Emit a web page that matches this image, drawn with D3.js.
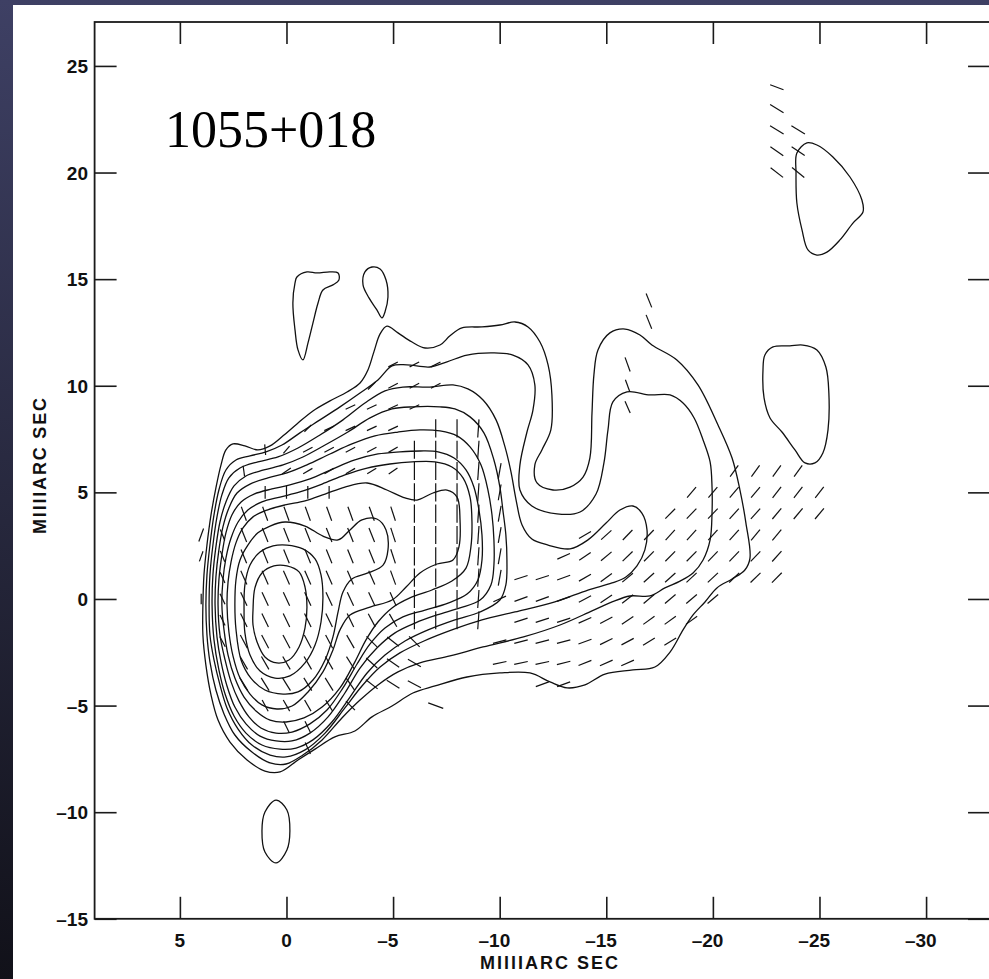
<!DOCTYPE html>
<html>
<head>
<meta charset="utf-8">
<script src="https://cdn.jsdelivr.net/npm/d3@7"></script>
<style>
  html, body { margin: 0; padding: 0; background: #1c1d2b; }
  svg { display: block; }
</style>
</head>
<body>
<svg id="chart" width="989" height="979"></svg>
<script>
// ---- labels and axes ----------------------------------------------------
const sourceName = "1055+018";
const axisTitle = "MIllIARC SEC";
const xTickValues = [5, 0, -5, -10, -15, -20, -25, -30];
const yTickValues = [25, 20, 15, 10, 5, 0, -5, -10, -15];
const xExtent = [9, -33];        // relative RA, mas (east to the left)
const yExtent = [-15, 27.06];    // relative Dec, mas

// ---- total-intensity contours, [RA offset, Dec offset] in mas -----------
// lowest level: envelope of the whole source
const contourL1 = [[3.92,-0.28],[3.87,1.13],[3.73,2.53],[3.54,3.94],[3.31,5.21],[3.07,6.29],[2.84,6.99],[2.51,7.27],[1.95,7.18],[1.34,6.99],[0.77,7.18],[0.16,7.65],[-0.49,8.21],[-1.24,8.82],[-2.04,9.29],[-2.84,9.71],[-3.45,10.13],[-3.82,10.74],[-4.10,11.59],[-4.39,12.43],[-4.71,12.80],[-5.23,12.48],[-5.89,12.05],[-6.50,11.77],[-7.20,11.91],[-7.67,12.34],[-8.23,12.71],[-9.17,12.76],[-10.01,12.85],[-10.72,12.99],[-11.33,12.76],[-11.89,12.05],[-12.27,10.98],[-12.45,9.57],[-12.40,7.93],[-11.98,6.99],[-11.65,6.29],[-11.75,5.44],[-12.50,5.11],[-13.30,5.25],[-13.91,5.72],[-14.23,6.61],[-14.33,8.72],[-14.42,10.51],[-14.61,11.68],[-15.17,12.48],[-15.88,12.66],[-16.58,12.38],[-17.14,11.91],[-18.31,11.21],[-19.30,10.04],[-20.24,8.16],[-20.90,6.61],[-21.27,5.11],[-21.55,3.56],[-21.74,1.92],[-21.50,1.36],[-20.90,0.94],[-20.19,0.52],[-19.63,-0.14],[-19.07,-0.75],[-18.60,-1.45],[-17.99,-2.49],[-17.28,-3.19],[-16.25,-3.33],[-14.94,-3.52],[-14.00,-4.03],[-13.16,-4.17],[-12.36,-3.89],[-11.42,-3.47],[-10.01,-3.47],[-8.47,-3.66],[-6.97,-4.08],[-5.93,-4.41],[-4.95,-5.02],[-4.01,-5.53],[-3.21,-6.19],[-2.27,-6.47],[-1.34,-7.04],[-0.54,-7.55],[0.30,-8.11],[1.01,-8.07],[1.85,-7.55],[2.65,-6.71],[3.21,-5.68],[3.54,-4.50],[3.78,-3.10],[3.92,-1.69]];

const contourL2 = [[3.78,-0.28],[3.73,1.13],[3.59,2.53],[3.40,3.94],[3.17,5.11],[2.84,6.05],[2.37,6.52],[1.71,6.71],[0.96,6.90],[0.21,7.22],[-0.63,7.79],[-1.57,8.40],[-2.51,9.01],[-3.45,9.66],[-4.29,10.27],[-4.95,10.93],[-5.65,10.98],[-6.73,10.88],[-7.53,11.12],[-8.47,11.44],[-9.68,11.54],[-10.62,11.44],[-11.33,10.98],[-11.65,10.04],[-11.56,8.86],[-11.28,7.83],[-10.95,6.29],[-10.95,5.11],[-11.51,4.36],[-12.69,3.99],[-13.77,4.08],[-14.52,4.92],[-14.89,6.38],[-15.08,7.93],[-15.31,9.24],[-15.97,9.71],[-17.05,9.57],[-17.99,9.57],[-18.60,9.19],[-19.12,8.49],[-19.54,7.46],[-19.87,6.43],[-19.96,5.25],[-19.96,4.03],[-19.87,2.77],[-19.54,1.83],[-19.07,1.22],[-18.46,0.84],[-17.75,0.52],[-17.05,0.14],[-16.11,0.14],[-15.27,-0.14],[-14.33,-0.56],[-12.83,-1.22],[-11.12,-1.78],[-9.22,-2.25],[-7.67,-2.67],[-6.26,-3.00],[-5.23,-3.42],[-4.29,-4.03],[-3.45,-4.74],[-2.60,-5.58],[-1.67,-6.61],[-0.77,-7.32],[0.02,-7.74],[0.77,-7.69],[1.62,-7.18],[2.42,-6.38],[2.93,-5.39],[3.31,-4.27],[3.59,-2.95],[3.73,-1.69]];

const contourL3 = [[3.63,-0.28],[3.59,1.13],[3.45,2.53],[3.26,3.85],[3.03,4.88],[2.70,5.68],[2.18,6.14],[1.34,6.43],[0.40,6.66],[-0.54,7.08],[-1.57,7.69],[-2.65,8.40],[-3.68,9.19],[-4.62,9.76],[-5.46,9.94],[-6.73,9.94],[-7.81,10.04],[-8.51,9.85],[-9.22,9.33],[-9.83,8.40],[-10.25,7.13],[-10.53,5.96],[-10.77,4.64],[-11.05,3.47],[-11.51,2.81],[-12.27,2.53],[-13.30,2.35],[-14.14,2.77],[-14.99,3.56],[-15.64,4.17],[-16.25,4.36],[-16.67,4.03],[-16.91,3.24],[-16.81,2.30],[-16.44,1.55],[-15.92,1.03],[-15.27,0.75],[-14.14,0.42],[-12.59,-0.14],[-10.72,-0.61],[-9.17,-0.98],[-7.76,-1.45],[-6.45,-1.97],[-5.32,-2.53],[-4.39,-3.19],[-3.54,-4.08],[-2.74,-5.11],[-1.81,-6.29],[-0.87,-7.08],[0.02,-7.41],[0.77,-7.32],[1.62,-6.85],[2.27,-6.10],[2.79,-5.11],[3.12,-4.03],[3.40,-2.86],[3.59,-1.69]];

const contourL4 = [[3.49,-0.28],[3.45,1.13],[3.31,2.44],[3.12,3.61],[2.84,4.55],[2.46,5.30],[1.90,5.77],[1.06,6.05],[0.16,6.29],[-0.77,6.66],[-1.81,7.22],[-2.88,7.83],[-3.92,8.49],[-4.95,8.91],[-5.93,9.01],[-7.20,9.01],[-7.90,8.91],[-8.61,8.54],[-9.26,7.79],[-9.73,6.52],[-10.01,5.25],[-10.15,4.17],[-10.29,3.00],[-10.34,1.83],[-10.29,0.66],[-10.01,-0.05],[-9.08,-0.61],[-7.90,-0.98],[-6.64,-1.45],[-5.56,-1.97],[-4.62,-2.63],[-3.78,-3.47],[-2.98,-4.60],[-2.13,-5.77],[-1.24,-6.61],[-0.45,-6.99],[0.30,-7.04],[1.15,-6.85],[1.90,-6.29],[2.46,-5.49],[2.88,-4.46],[3.17,-3.33],[3.40,-1.92]];

const contourL5 = [[3.35,-0.28],[3.31,1.03],[3.17,2.30],[2.98,3.38],[2.70,4.27],[2.32,4.97],[1.71,5.39],[0.87,5.68],[-0.02,5.91],[-0.96,6.29],[-2.04,6.80],[-3.07,7.27],[-4.15,7.65],[-5.23,7.83],[-6.26,7.93],[-7.20,7.88],[-8.00,7.65],[-8.61,7.13],[-9.12,6.29],[-9.45,5.11],[-9.64,3.94],[-9.73,2.77],[-9.73,1.59],[-9.59,0.66],[-9.08,-0.05],[-8.14,-0.42],[-7.06,-0.75],[-6.03,-1.13],[-5.09,-1.59],[-4.24,-2.30],[-3.45,-3.24],[-2.74,-4.41],[-1.95,-5.53],[-1.10,-6.29],[-0.26,-6.66],[0.49,-6.66],[1.24,-6.43],[1.90,-5.86],[2.42,-5.07],[2.79,-4.08],[3.07,-2.95],[3.26,-1.78]];

const contourL6 = [[3.21,-0.28],[3.17,0.89],[3.03,2.06],[2.84,3.10],[2.56,3.94],[2.13,4.55],[1.52,4.92],[0.68,5.16],[-0.16,5.35],[-1.10,5.63],[-2.18,6.10],[-3.21,6.52],[-4.29,6.80],[-5.32,6.90],[-6.26,6.94],[-7.11,6.90],[-7.86,6.61],[-8.42,6.05],[-8.79,5.25],[-9.03,4.17],[-9.17,3.00],[-9.17,1.83],[-8.98,0.89],[-8.47,0.23],[-7.58,-0.19],[-6.50,-0.52],[-5.46,-0.84],[-4.62,-1.36],[-3.92,-2.11],[-3.31,-3.05],[-2.65,-4.17],[-1.90,-5.21],[-1.10,-5.86],[-0.26,-6.24],[0.49,-6.29],[1.20,-6.05],[1.76,-5.53],[2.23,-4.78],[2.60,-3.89],[2.88,-2.86],[3.12,-1.69]];

const contourL7 = [[3.03,-0.28],[2.98,0.89],[2.84,1.92],[2.60,2.86],[2.27,3.61],[1.81,4.17],[1.15,4.55],[0.30,4.78],[-0.63,5.02],[-1.67,5.39],[-2.74,5.82],[-3.78,6.14],[-4.85,6.33],[-5.89,6.43],[-6.97,6.43],[-7.76,6.19],[-8.28,5.68],[-8.61,4.78],[-8.70,3.61],[-8.65,2.44],[-8.42,1.45],[-7.76,0.84],[-6.82,0.42],[-5.79,0.05],[-4.95,-0.42],[-4.29,-1.08],[-3.73,-1.92],[-3.21,-2.95],[-2.51,-4.17],[-1.67,-5.07],[-0.82,-5.58],[0.02,-5.77],[0.77,-5.68],[1.43,-5.25],[1.99,-4.60],[2.42,-3.71],[2.74,-2.63],[2.93,-1.45]];

// level that wraps the core and the knot near (-7, 4)
const contourL8 = [[2.79,-0.28],[2.74,0.80],[2.60,1.74],[2.37,2.63],[2.04,3.33],[1.57,3.85],[0.91,4.17],[0.07,4.41],[-0.87,4.60],[-1.81,4.92],[-2.74,5.25],[-3.78,5.44],[-4.71,5.11],[-5.56,4.74],[-6.12,4.64],[-6.87,4.97],[-7.53,5.11],[-8.00,4.78],[-8.14,3.71],[-8.09,2.44],[-7.81,1.83],[-7.06,1.64],[-6.26,1.22],[-5.61,0.56],[-4.95,-0.05],[-3.92,-0.38],[-2.98,-0.75],[-2.51,-1.45],[-2.18,-2.39],[-1.71,-3.42],[-1.01,-4.36],[-0.26,-5.02],[0.45,-5.16],[1.15,-4.97],[1.71,-4.46],[2.18,-3.71],[2.51,-2.67],[2.70,-1.55]];

const contourL9 = [[2.42,-0.28],[2.37,0.89],[2.18,1.83],[1.81,2.53],[1.34,3.10],[0.77,3.42],[0.07,3.61],[-0.87,3.42],[-1.71,2.95],[-2.42,2.77],[-2.98,3.24],[-3.54,3.71],[-4.24,3.75],[-4.67,3.24],[-4.76,2.30],[-4.53,1.59],[-3.82,1.22],[-3.07,0.94],[-2.65,0.33],[-2.42,-0.61],[-2.18,-1.78],[-1.81,-2.86],[-1.24,-3.80],[-0.54,-4.36],[0.16,-4.46],[1.01,-4.27],[1.67,-3.71],[2.13,-2.86],[2.37,-1.41]];

const contourL10 = [[1.99,-0.52],[1.95,0.66],[1.71,1.59],[1.24,2.20],[0.63,2.49],[-0.02,2.53],[-0.77,2.35],[-1.34,1.88],[-1.62,1.13],[-1.71,0.09],[-1.62,-1.08],[-1.34,-2.16],[-0.87,-3.00],[-0.16,-3.61],[0.54,-3.71],[1.24,-3.38],[1.71,-2.63],[1.95,-1.59]];

// peak level around the core
const contourL11 = [[1.57,-0.52],[1.48,0.52],[1.15,1.22],[0.59,1.55],[-0.02,1.55],[-0.59,1.27],[-0.87,0.56],[-0.96,-0.38],[-0.87,-1.36],[-0.59,-2.25],[-0.12,-2.86],[0.45,-3.00],[1.01,-2.72],[1.38,-2.02],[1.57,-1.22]];

// isolated lowest-level islands
const islandNorthWest = [[-0.49,15.10],[-0.96,15.34],[-1.43,15.29],[-2.04,15.34],[-2.42,15.29],[-2.46,14.96],[-2.18,14.73],[-1.71,14.49],[-1.48,13.88],[-1.24,12.94],[-1.01,12.01],[-0.77,11.21],[-0.54,11.68],[-0.40,12.62],[-0.30,13.88],[-0.40,14.82]];
const islandNorth = [[-3.59,14.73],[-3.68,15.34],[-4.01,15.57],[-4.39,15.48],[-4.67,14.96],[-4.76,14.16],[-4.62,13.46],[-4.48,13.18],[-4.24,13.56],[-3.87,14.12]];
const islandSouth = [[1.15,-10.88],[1.01,-9.99],[0.49,-9.43],[-0.02,-9.90],[-0.16,-10.88],[-0.02,-11.77],[0.49,-12.38],[1.01,-11.87]];
const islandFarNorth = [[-23.94,20.92],[-24.41,21.39],[-24.88,21.29],[-25.63,20.73],[-26.43,19.79],[-26.99,18.71],[-27.04,18.15],[-26.57,17.63],[-25.96,16.84],[-25.35,16.27],[-24.88,16.13],[-24.46,16.37],[-24.18,17.31],[-23.94,18.57],[-23.90,19.98]];
const islandWest = [[-22.35,10.74],[-22.44,11.44],[-22.82,11.82],[-23.61,11.87],[-24.22,11.91],[-24.88,11.68],[-25.30,10.88],[-25.44,9.66],[-25.40,7.93],[-25.16,6.85],[-24.79,6.38],[-24.32,6.38],[-23.85,6.99],[-23.24,7.83],[-22.68,8.49],[-22.40,9.43]];

// ---- polarization vectors: [RA, Dec, position angle (deg, N through E), length (mas)]
const vecJet = [
  [-21,6,-36,0.65],[-22,6,-36,0.65],[-23,6,-36,0.65],[-24,6,-36,0.65],
  [-19,5,-40,0.65],[-20,5,-40,0.65],[-21,5,-40,0.65],[-22,5,-40,0.65],[-23,5,-38,0.65],[-24,5,-38,0.65],[-25,5,-38,0.65],
  [-18,4,-45,0.65],[-19,4,-44,0.65],[-20,4,-44,0.65],[-21,4,-42,0.65],[-22,4,-42,0.65],[-23,4,-40,0.65],[-24,4,-40,0.65],[-25,4,-40,0.65],
  [-14,3,-60,0.65],[-15,3,-48,0.65],[-16,3,-44,0.65],[-17,3,-44,0.65],[-18,3,-42,0.65],[-19,3,-42,0.65],[-20,3,-42,0.65],[-21,3,-42,0.65],[-22,3,-40,0.65],[-23,3,-40,0.65],
  [-13,2,-66,0.65],[-14,2,-56,0.65],[-15,2,-50,0.65],[-16,2,-46,0.65],[-17,2,-45,0.65],[-18,2,-45,0.65],[-19,2,-45,0.65],[-20,2,-44,0.65],[-21,2,-44,0.65],[-22,2,-44,0.65],[-23,2,-42,0.65],
  [-11,1,-72,0.65],[-12,1,-72,0.65],[-13,1,-70,0.65],[-14,1,-60,0.65],[-15,1,-54,0.65],[-16,1,-50,0.65],[-17,1,-48,0.65],[-18,1,-48,0.65],[-19,1,-47,0.65],[-20,1,-47,0.65],[-21,1,-46,0.65],[-22,1,-46,0.65],[-23,1,-45,0.65],
  [-10,0,-66,0.65],[-11,0,-70,0.65],[-12,0,-70,0.65],[-13,0,-70,0.65],[-14,0,-62,0.65],[-15,0,-56,0.65],[-16,0,-52,0.65],[-17,0,-50,0.65],[-18,0,-50,0.65],[-19,0,-50,0.65],[-20,0,-50,0.65],
  [-11,-1,-72,0.65],[-12,-1,-72,0.65],[-13,-1,-72,0.65],[-14,-1,-66,0.65],[-15,-1,-62,0.65],[-16,-1,-56,0.65],[-17,-1,-54,0.65],[-18,-1,-54,0.65],[-19,-1,-54,0.65],
  [-10,-2,-75,0.65],[-11,-2,-75,0.65],[-12,-2,-75,0.65],[-13,-2,-75,0.65],[-14,-2,-70,0.65],[-15,-2,-64,0.65],[-16,-2,-62,0.65],[-17,-2,-58,0.65],[-18,-2,-58,0.65],
  [-10,-3,-78,0.65],[-11,-3,-78,0.65],[-12,-3,-78,0.65],[-13,-3,-76,0.65],[-14,-3,-68,0.65],[-15,-3,-66,0.65],[-16,-3,-66,0.65],
  [-12,-4,-70,0.65],[-13,-4,-70,0.65]
];
const vecKnot = [
  [-6,7,0,0.85],[-6,6,0,0.85],[-6,5,0,0.85],[-6,4,0,0.85],[-6,3,0,0.85],[-6,2,0,0.85],[-6,1,0,0.85],[-6,0,0,0.85],[-6,-1,0,0.85],
  [-7,8,0,0.85],[-7,7,0,0.85],[-7,6,0,0.85],[-7,5,0,0.85],[-7,4,0,0.85],[-7,3,0,0.85],[-7,2,0,0.85],[-7,1,0,0.85],[-7,0,0,0.85],[-7,-1,0,0.85],
  [-8,8,0,0.85],[-8,7,0,0.85],[-8,6,0,0.85],[-8,5,0,0.85],[-8,4,0,0.85],[-8,3,0,0.85],[-8,2,0,0.85],[-8,1,0,0.85],[-8,0,0,0.85],[-8,-1,0,0.85],
  [-9,8,-4,0.85],[-9,7,-4,0.85],[-9,6,-4,0.85],[-9,5,-4,0.85],[-9,4,-4,0.85],[-9,3,-4,0.85],[-9,2,-4,0.85],[-9,1,-4,0.85],[-9,0,-4,0.85],[-9,-1,-4,0.85],
  [-10,6,-10,0.75],[-10,5,-10,0.75],[-10,4,-10,0.75],[-10,3,-10,0.75],[-10,2,-10,0.75],[-10,1,-10,0.75]
];
const vecCore = [
  [1,5,0,0.6],[0,5,0,0.6],[-1,5,0,0.6],[-2,5,0,0.6],
  [2,4,20,0.7],[1,4,20,0.7],[0,4,20,0.7],[-1,4,20,0.7],[-2,4,20,0.7],[-3,4,20,0.7],[-4,4,20,0.7],[-5,4,18,0.7],
  [3,3,22,0.55],[2,3,22,0.7],[1,3,22,0.7],[0,3,22,0.7],[-1,3,22,0.7],[-2,3,22,0.7],[-3,3,22,0.7],[-4,3,22,0.7],[-5,3,18,0.7],
  [3,2,22,0.55],[2,2,22,0.7],[1,2,22,0.7],[0,2,22,0.7],[-1,2,22,0.7],[-2,2,22,0.7],[-3,2,22,0.7],[-4,2,22,0.7],[-5,2,18,0.7],
  [3,1,24,0.55],[2,1,24,0.7],[1,1,24,0.7],[0,1,24,0.7],[-1,1,24,0.7],[-2,1,24,0.7],[-3,1,24,0.7],[-4,1,24,0.7],[-5,1,20,0.7],
  [3,0,25,0.55],[2,0,25,0.7],[1,0,25,0.7],[0,0,25,0.7],[-1,0,25,0.7],[-2,0,25,0.7],[-3,0,25,0.7],[-4,0,25,0.7],[-5,0,24,0.7],
  [3,-1,26,0.55],[2,-1,26,0.7],[1,-1,26,0.7],[0,-1,26,0.7],[-1,-1,26,0.7],[-2,-1,26,0.7],[-3,-1,26,0.7],[-4,-1,28,0.7],[-5,-1,30,0.7],
  [3,-2,28,0.55],[2,-2,28,0.7],[1,-2,28,0.7],[0,-2,28,0.7],[-1,-2,28,0.7],[-2,-2,28,0.7],[-3,-2,30,0.7],[-4,-2,45,0.7],[-5,-2,52,0.7],[-6,-2,45,0.7],
  [2,-3,30,0.7],[1,-3,30,0.7],[0,-3,30,0.7],[-1,-3,30,0.7],[-2,-3,30,0.7],[-3,-3,32,0.7],[-4,-3,48,0.7],[-5,-3,55,0.7],[-6,-3,60,0.7],
  [2,-4,32,0.7],[1,-4,32,0.7],[0,-4,32,0.7],[-1,-4,32,0.7],[-2,-4,32,0.7],[-3,-4,35,0.7],[-4,-4,52,0.7],[-5,-4,58,0.7],[-6,-4,62,0.7],
  [1,-5,28,0.6],[0,-5,30,0.6],[-1,-5,30,0.6],[-2,-5,32,0.6],[-3,-5,45,0.6],[-7,-5,70,0.75],
  [0,-6,26,0.6],[-1,-6,26,0.6],[-1,-7,24,0.6]
];
const vecNorthEdge = [
  [-5,11,-63,0.5],[-6,11,-63,0.5],[-7,11,-63,0.5],
  [-4,10,-45,0.5],[-5,10,-63,0.5],[-6,10,-63,0.5],[-7,10,-63,0.5],
  [-3,9,-65,0.5],[-4,9,-65,0.5],[-5,9,-65,0.5],[-6,9,-65,0.5],
  [-1,8,-45,0.45],[-2,8,-65,0.5],[-3,8,-65,0.5],[-4,8,-65,0.5],[-5,8,-65,0.5],
  [0,7,-40,0.45],[-1,7,-62,0.5],[-2,7,-62,0.5],[-3,7,-62,0.5],[-4,7,-62,0.5],[-5,7,-60,0.5],
  [0,6,-55,0.5],[-1,6,-60,0.5],[-2,6,-60,0.5],[-3,6,-60,0.5],[-4,6,-58,0.5],[-5,6,-55,0.5],
  [2,6,8,0.5],[1,7,5,0.5]
];
const vecOuter = [
  [-23,24,69,0.67],[-23,23,58,0.74],[-23,22,59,0.74],[-23,21,55,0.74],[-23,20,52,0.74],
  [-24,22,59,0.74],[-24,21,56,0.74],[-24,20,51,0.74],
  [-17,14,22,0.7],[-17,13,22,0.7],[-16,11,20,0.7],[-16,10,20,0.6],[-16,9,24,0.6],
  [4,3,-20,0.65],[4,2,-20,0.5],[4,0,0,0.5]
];

// ---- drawing ------------------------------------------------------------
const W = 989, H = 979;
const svg = d3.select("#chart");

const defs = svg.append("defs");
const bg = defs.append("linearGradient").attr("id", "backdrop")
  .attr("x1", 0).attr("y1", 0).attr("x2", 0).attr("y2", 1);
bg.append("stop").attr("offset", "0%").attr("stop-color", "#3e4064");
bg.append("stop").attr("offset", "100%").attr("stop-color", "#111119");
svg.append("rect").attr("width", W).attr("height", H).attr("fill", "url(#backdrop)");
svg.append("rect").attr("x", 13).attr("y", 5).attr("width", W - 13).attr("height", H - 5).attr("fill", "#ffffff");

const x = d3.scaleLinear().domain(xExtent).range([94.6, 990.04]);
const y = d3.scaleLinear().domain(yExtent).range([918.8, 22]);

defs.append("clipPath").attr("id", "frameClip").append("rect")
  .attr("x", x(xExtent[0])).attr("y", y(yExtent[1]))
  .attr("width", x(xExtent[1]) - x(xExtent[0]))
  .attr("height", y(yExtent[0]) - y(yExtent[1]));

const plot = svg.append("g").attr("clip-path", "url(#frameClip)");

const contourSet = [contourL1, contourL2, contourL3, contourL4, contourL5, contourL6,
  contourL7, contourL8, contourL9, contourL10, contourL11,
  islandNorthWest, islandNorth, islandSouth, islandFarNorth, islandWest];

const ring = d3.line()
  .x(d => x(d[0]))
  .y(d => y(d[1]))
  .curve(d3.curveCatmullRomClosed.alpha(0.5));

plot.append("g").selectAll("path")
  .data(contourSet)
  .join("path")
  .attr("d", ring)
  .attr("fill", "none")
  .attr("stroke", "#111")
  .attr("stroke-width", 1.3)
  .attr("stroke-linejoin", "round");

const vectors = [].concat(vecJet, vecKnot, vecCore, vecNorthEdge, vecOuter);
const rad = Math.PI / 180;
plot.append("g").selectAll("line")
  .data(vectors)
  .join("line")
  .attr("x1", d => x(d[0] + Math.sin(d[2] * rad) * d[3] / 2))
  .attr("y1", d => y(d[1] + Math.cos(d[2] * rad) * d[3] / 2))
  .attr("x2", d => x(d[0] - Math.sin(d[2] * rad) * d[3] / 2))
  .attr("y2", d => y(d[1] - Math.cos(d[2] * rad) * d[3] / 2))
  .attr("stroke", "#111")
  .attr("stroke-width", 1.2);

// frame and inward ticks on all four sides
const tickLen = 22;
const styleAxis = g => {
  g.select(".domain").remove();
  g.selectAll(".tick line").attr("stroke", "#1a1a1a").attr("stroke-width", 1.6);
  g.selectAll(".tick text").remove();
};
svg.append("g").attr("transform", `translate(0,${y(yExtent[0])})`)
  .call(d3.axisBottom(x).tickValues(xTickValues).tickSizeInner(-tickLen).tickSizeOuter(0)).call(styleAxis);
svg.append("g").attr("transform", `translate(0,${y(yExtent[1])})`)
  .call(d3.axisTop(x).tickValues(xTickValues).tickSizeInner(-tickLen).tickSizeOuter(0)).call(styleAxis);
svg.append("g").attr("transform", `translate(${x(xExtent[0])},0)`)
  .call(d3.axisLeft(y).tickValues(yTickValues).tickSizeInner(-tickLen).tickSizeOuter(0)).call(styleAxis);
svg.append("g").attr("transform", `translate(${x(xExtent[1])},0)`)
  .call(d3.axisRight(y).tickValues(yTickValues).tickSizeInner(-tickLen).tickSizeOuter(0)).call(styleAxis);

svg.append("rect")
  .attr("x", x(xExtent[0])).attr("y", y(yExtent[1]))
  .attr("width", x(xExtent[1]) - x(xExtent[0]))
  .attr("height", y(yExtent[0]) - y(yExtent[1]))
  .attr("fill", "none").attr("stroke", "#1a1a1a").attr("stroke-width", 1.8);

// tick labels
const labelFont = "'Liberation Sans', Arial, Helvetica, sans-serif";
const dash = "\u2013";
const xl = svg.append("g").attr("font-family", labelFont).attr("font-weight", "bold")
  .attr("font-size", 19).attr("fill", "#111");
xTickValues.forEach(v => {
  const digits = xl.append("text").attr("x", x(v)).attr("y", 947)
    .attr("text-anchor", "middle").text(String(Math.abs(v)));
  if (v < 0) {
    const w = digits.node().getComputedTextLength();
    xl.append("text").attr("x", x(v) - w / 2).attr("y", 947)
      .attr("text-anchor", "end").text(dash);
  }
});
const yl = svg.append("g").attr("font-family", labelFont).attr("font-weight", "bold")
  .attr("font-size", 19).attr("fill", "#111");
yTickValues.forEach(v => {
  yl.append("text").attr("x", 88).attr("y", y(v) + 7)
    .attr("text-anchor", "end").text((v < 0 ? dash : "") + Math.abs(v));
});

// axis titles
svg.append("text")
  .attr("x", 549).attr("y", 969)
  .attr("text-anchor", "middle")
  .attr("font-family", labelFont).attr("font-weight", "bold").attr("font-size", 18)
  .attr("textLength", 138).attr("lengthAdjust", "spacing")
  .attr("fill", "#111").text(axisTitle);
svg.append("text")
  .attr("transform", "translate(46,466) rotate(-90)")
  .attr("text-anchor", "middle")
  .attr("font-family", labelFont).attr("font-weight", "bold").attr("font-size", 18)
  .attr("textLength", 136).attr("lengthAdjust", "spacing")
  .attr("fill", "#111").text(axisTitle);

// source name
svg.append("text")
  .attr("x", 165).attr("y", 147)
  .attr("font-family", "'Liberation Serif', 'Times New Roman', serif")
  .attr("font-size", 52).attr("fill", "#000")
  .text(sourceName);
</script>
</body>
</html>
